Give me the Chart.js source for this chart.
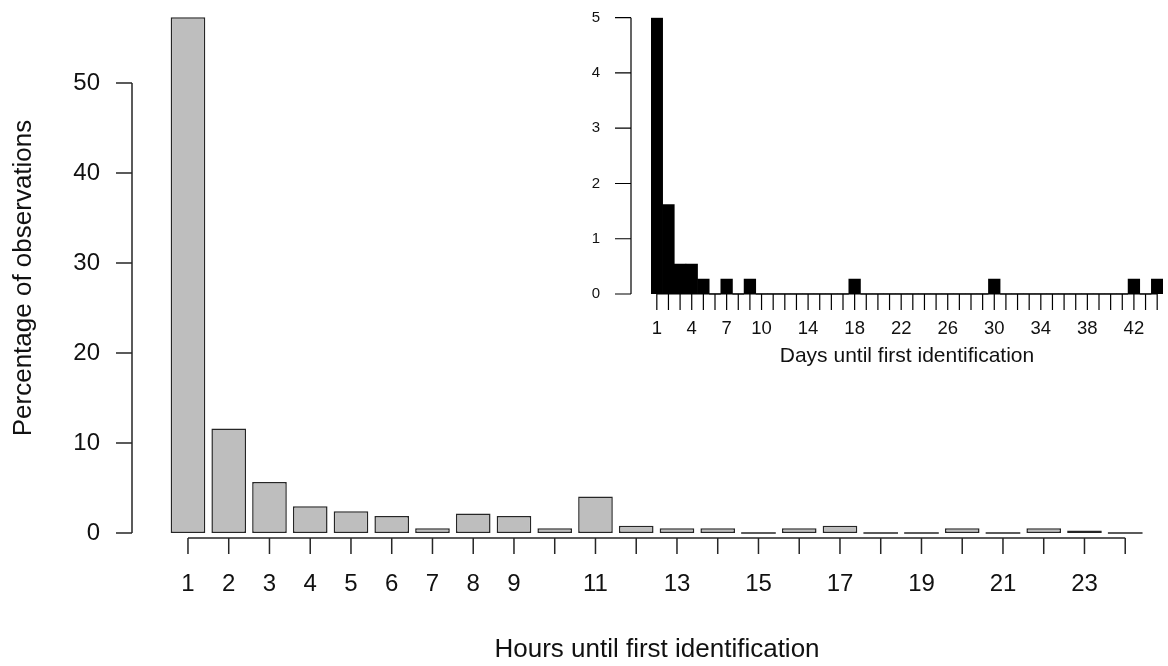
<!DOCTYPE html>
<html>
<head>
<meta charset="utf-8">
<script src="https://cdn.jsdelivr.net/npm/chart.js@4/dist/chart.umd.min.js"></script>
<style>
  html, body { margin: 0; padding: 0; background: #fff; }
  #wrap { position: relative; width: 1168px; height: 666px; overflow: hidden; }
  #mainBox { position: absolute; left: 0; top: 0; width: 1168px; height: 666px; }
  #insetBox { position: absolute; left: 560px; top: 0; width: 608px; height: 370px; }
</style>
</head>
<body>
<div id="wrap">
  <div id="mainBox"><canvas id="hours"></canvas></div>
  <div id="insetBox"><canvas id="days"></canvas></div>
</div>
<script>
"use strict";
// hours since first sighting (main plot)
const hours = [1, 2, 3, 4, 5, 6, 7, 8, 9, 10, 11, 12, 13, 14, 15, 16, 17, 18, 19, 20, 21, 22, 23, 24];
const hourPercent = [57.3, 11.62, 5.67, 2.97, 2.43, 1.89, 0.54, 2.16, 1.89, 0.54, 4.05, 0.81,
                     0.54, 0.54, 0, 0.54, 0.81, 0, 0, 0.54, 0, 0.54, 0.27, 0];
const hourTickLabels = ['1', '2', '3', '4', '5', '6', '7', '8', '9', '', '11', '',
                        '13', '', '15', '', '17', '', '19', '', '21', '', '23', ''];
const hourAxisTicks = [0, 10, 20, 30, 40, 50];

// days since first sighting (inset)
const days = [1, 2, 3, 4, 5, 6, 7, 8, 9, 10, 11, 12, 13, 14, 15, 16, 17, 18, 19, 20, 21, 22,
              23, 24, 25, 26, 27, 28, 29, 30, 31, 32, 33, 34, 35, 36, 37, 38, 39, 40, 41, 42, 43, 44];
const dayPercent = [5, 1.62, 0.54, 0.54, 0.27, 0, 0.27, 0, 0.27, 0, 0, 0, 0, 0, 0, 0, 0, 0.27, 0, 0, 0, 0,
                    0, 0, 0, 0, 0, 0, 0, 0.27, 0, 0, 0, 0, 0, 0, 0, 0, 0, 0, 0, 0.27, 0, 0.27];
const dayTickLabels = ['1', '', '', '4', '', '', '7', '', '', '10', '', '', '', '14', '', '', '', '18', '', '', '', '22',
                       '', '', '', '26', '', '', '', '30', '', '', '', '34', '', '', '', '38', '', '', '', '42', '', ''];
const dayAxisTicks = [0, 1, 2, 3, 4, 5];

const FONT = "'Liberation Sans', Arial, Helvetica, sans-serif";

// base-R looking axes: detached y axis, x axis line spanning first..last tick
const rAxes = {
  id: 'rAxes',
  afterDatasetsDraw(chart, args, o) {
    const ctx = chart.ctx;
    const xs = chart.scales.x, ys = chart.scales.y;
    const values = chart.data.datasets[0].data;
    const base = ys.getPixelForValue(0);
    ctx.save();
    ctx.strokeStyle = o.lineColor;
    ctx.lineWidth = o.lineWidth;

    // zero bars still leave a flat line
    ctx.beginPath();
    chart.getDatasetMeta(0).data.forEach((bar, i) => {
      if (values[i] !== 0) return;
      ctx.moveTo(bar.x - bar.width / 2, base);
      ctx.lineTo(bar.x + bar.width / 2, base);
    });
    ctx.stroke();

    // y axis
    const ax = chart.chartArea.left - o.yAxisGap;
    const yTop = ys.getPixelForValue(o.yTicks[o.yTicks.length - 1]);
    ctx.beginPath();
    ctx.moveTo(ax, base);
    ctx.lineTo(ax, yTop);
    o.yTicks.forEach(v => {
      const py = ys.getPixelForValue(v);
      ctx.moveTo(ax, py);
      ctx.lineTo(ax - o.tickLen, py);
    });
    ctx.stroke();

    // x axis
    const n = chart.data.labels.length;
    const ay = base + o.xAxisDrop;
    ctx.beginPath();
    ctx.moveTo(xs.getPixelForValue(0), ay);
    ctx.lineTo(xs.getPixelForValue(n - 1), ay);
    for (let i = 0; i < n; i++) {
      const px = xs.getPixelForValue(i);
      ctx.moveTo(px, ay);
      ctx.lineTo(px, ay + o.tickLen);
    }
    ctx.stroke();

    ctx.fillStyle = o.textColor;
    ctx.textBaseline = 'middle';

    ctx.font = o.yTickFont + 'px ' + FONT;
    ctx.textAlign = 'right';
    o.yTicks.forEach(v => ctx.fillText(String(v), ax - o.yLabelGap, ys.getPixelForValue(v)));

    ctx.font = o.xTickFont + 'px ' + FONT;
    ctx.textAlign = 'center';
    o.xLabels.forEach((lab, i) => {
      if (lab) ctx.fillText(lab, xs.getPixelForValue(i), base + o.xLabelDrop);
    });

    ctx.font = o.xTitleFont + 'px ' + FONT;
    ctx.fillText(o.xTitle, o.xTitleX, o.xTitleY);

    if (o.yTitle) {
      ctx.font = o.yTitleFont + 'px ' + FONT;
      ctx.translate(o.yTitleX, o.yTitleY);
      ctx.rotate(-Math.PI / 2);
      ctx.fillText(o.yTitle, 0, 0);
    }
    ctx.restore();
  }
};

function hiddenScales(yMax) {
  return {
    x: { display: false },
    y: { display: false, min: 0, max: yMax }
  };
}

new Chart(document.getElementById('hours'), {
  type: 'bar',
  data: {
    labels: hours,
    datasets: [{
      data: hourPercent,
      backgroundColor: '#bebebe',
      borderColor: '#262626',
      borderWidth: 1.5,
      borderSkipped: false,
      categoryPercentage: 1,
      barPercentage: 0.85
    }]
  },
  options: {
    responsive: true,
    maintainAspectRatio: false,
    animation: false,
    layout: { padding: { left: 167.6, right: 22.4, top: 11, bottom: 133 } },
    scales: hiddenScales(58),
    plugins: {
      legend: { display: false },
      tooltip: { enabled: false },
      rAxes: {
        yTicks: hourAxisTicks,
        xLabels: hourTickLabels,
        lineColor: '#262626',
        lineWidth: 1.5,
        textColor: '#111',
        yAxisGap: 35.6,
        tickLen: 16,
        yLabelGap: 32,
        xAxisDrop: 5,
        xLabelDrop: 51,
        yTickFont: 24,
        xTickFont: 24,
        xTitle: 'Hours until first identification',
        xTitleFont: 26,
        xTitleX: 657,
        xTitleY: 650,
        yTitle: 'Percentage of observations',
        yTitleFont: 26,
        yTitleX: 24,
        yTitleY: 278
      }
    }
  },
  plugins: [rAxes]
});

new Chart(document.getElementById('days'), {
  type: 'bar',
  data: {
    labels: days,
    datasets: [{
      data: dayPercent,
      backgroundColor: '#000',
      borderWidth: 0,
      categoryPercentage: 1,
      barPercentage: 1
    }]
  },
  options: {
    responsive: true,
    maintainAspectRatio: false,
    animation: false,
    layout: { padding: { left: 91, right: 5, top: 17.7, bottom: 76 } },
    scales: hiddenScales(5),
    plugins: {
      legend: { display: false },
      tooltip: { enabled: false },
      rAxes: {
        yTicks: dayAxisTicks,
        xLabels: dayTickLabels,
        lineColor: '#000',
        lineWidth: 1.2,
        textColor: '#111',
        yAxisGap: 20,
        tickLen: 16,
        yLabelGap: 31,
        xAxisDrop: 0,
        xLabelDrop: 35,
        yTickFont: 15,
        xTickFont: 18.5,
        xTitle: 'Days until first identification',
        xTitleFont: 21,
        xTitleX: 347,
        xTitleY: 356
      }
    }
  },
  plugins: [rAxes]
});
</script>
</body>
</html>
